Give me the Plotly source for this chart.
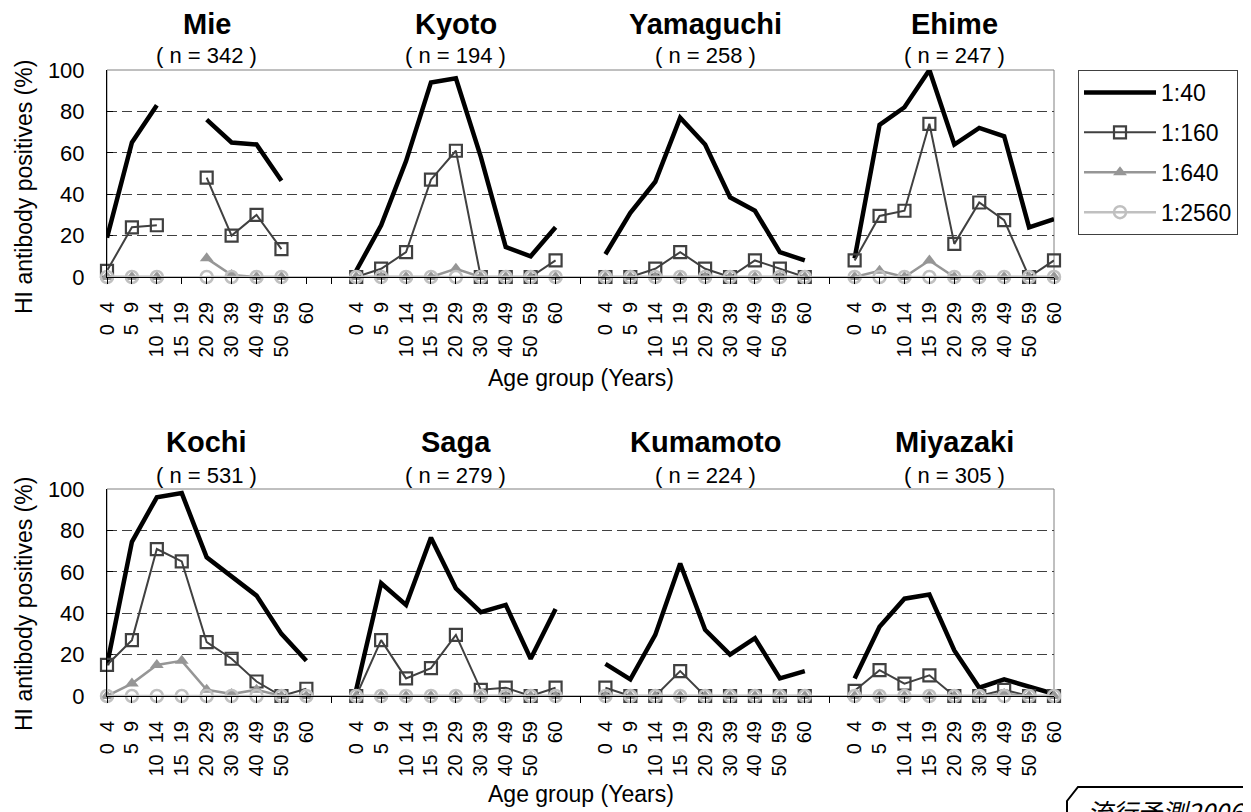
import plotly.graph_objects as go

# age groups (the dash is hidden in the original labels)
age_labels = ["0\u00a0\u00a04", "5\u00a0\u00a09", "10\u00a0\u00a014", "15\u00a0\u00a019", "20\u00a0\u00a029",
              "30\u00a0\u00a039", "40\u00a0\u00a049", "50\u00a0\u00a059", "60"]

titers = ["1:40", "1:160", "1:640", "1:2560"]

top_prefs = ["Mie", "Kyoto", "Yamaguchi", "Ehime"]
top_n = [342, 194, 258, 247]
bottom_prefs = ["Kochi", "Saga", "Kumamoto", "Miyazaki"]
bottom_n = [531, 279, 224, 305]

# % positives per age group, None = no data
mie_40 = [19, 65, 83, None, 76, 65, 64, 46.5, None]
mie_160 = [3, 24, 25, None, 48, 20, 30, 13.5, None]
mie_640 = [0, 0, 0, None, 9, 1, 0, 0, None]
mie_2560 = [0, 0, 0, None, 0, 0, 0, 0, None]

kyoto_40 = [3, 25, 56, 94, 96, 58, 14.5, 10, 24]
kyoto_160 = [0, 4, 12, 47, 61, 0, 0, 0, 8]
kyoto_640 = [0, 0, 0, 0, 4, 0, 0, 0, 0]
kyoto_2560 = [0, 0, 0, 0, 0, 0, 0, 0, 0]

yamaguchi_40 = [11, 31, 46, 77, 64, 38.5, 32, 12, 8]
yamaguchi_160 = [0, 0, 4, 12, 4, 0, 8, 4, 0]
yamaguchi_640 = [0, 0, 0, 0, 0, 0, 0, 0, 0]
yamaguchi_2560 = [0, 0, 0, 0, 0, 0, 0, 0, 0]

ehime_40 = [9, 73.5, 82, 100, 64, 72, 68, 24, 28]
ehime_160 = [8, 29.5, 32, 74, 16, 36, 27.5, 0, 8]
ehime_640 = [0, 3, 0, 8, 0, 0, 0, 0, 0]
ehime_2560 = [0, 0, 0, 0, 0, 0, 0, 0, 0]

kochi_40 = [15, 74.5, 96, 98, 67, 57.5, 48.5, 30, 17]
kochi_160 = [15, 27, 71, 65, 26, 18, 7, 0, 3.5]
kochi_640 = [0, 6, 15, 17, 3, 1, 3, 0, 0]
kochi_2560 = [0, 0, 0, 0, 0, 0, 0, 0, 0]

saga_40 = [3, 54.5, 44, 76.5, 52, 40.5, 44, 18, 42]
saga_160 = [0, 27, 8.5, 13.5, 29.5, 3, 4, 0, 4]
saga_640 = [0, 0, 0, 0, 0, 0, 0, 0, 0]
saga_2560 = [0, 0, 0, 0, 0, 0, 0, 0, 0]

kumamoto_40 = [15.5, 8, 29.5, 64, 32, 20, 28, 8.5, 12]
kumamoto_160 = [4, 0, 0, 12, 0, 0, 0, 0, 0]
kumamoto_640 = [0, 0, 0, 0, 0, 0, 0, 0, 0]
kumamoto_2560 = [0, 0, 0, 0, 0, 0, 0, 0, 0]

miyazaki_40 = [8.5, 33.5, 47, 49, 22, 4, 8, 4.5, 1]
miyazaki_160 = [2.5, 12.5, 6, 10, 0, 0, 3, 0, 0]
miyazaki_640 = [0, 0, 0, 0, 0, 0, 1, 0, 0]
miyazaki_2560 = [0, 0, 0, 0, 0, 0, 0, 0, 0]

top_rows = [
    [mie_40, mie_160, mie_640, mie_2560],
    [kyoto_40, kyoto_160, kyoto_640, kyoto_2560],
    [yamaguchi_40, yamaguchi_160, yamaguchi_640, yamaguchi_2560],
    [ehime_40, ehime_160, ehime_640, ehime_2560],
]
bottom_rows = [
    [kochi_40, kochi_160, kochi_640, kochi_2560],
    [saga_40, saga_160, saga_640, saga_2560],
    [kumamoto_40, kumamoto_160, kumamoto_640, kumamoto_2560],
    [miyazaki_40, miyazaki_160, miyazaki_640, miyazaki_2560],
]

# the page body has an 8px margin, so the figure is 8px smaller and all
# pixel positions below are given in window pixels and shifted by OFF
OFF = 8
W, H = 1251 - OFF, 812 - OFF
FONT = "Arial, Liberation Sans, sans-serif"

styles = [
    dict(mode="lines", line=dict(color="black", width=4.5)),
    dict(mode="lines+markers", line=dict(color="#404040", width=2),
         marker=dict(symbol="square-open", size=12, color="#404040", line=dict(width=2.2))),
    dict(mode="lines+markers", line=dict(color="#969696", width=2.5),
         marker=dict(symbol="triangle-up", size=12, color="#969696")),
    dict(mode="lines+markers", line=dict(color="#c0c0c0", width=2.5),
         marker=dict(symbol="circle-open", size=12, color="#c0c0c0", line=dict(width=2.5))),
]

n_age = len(age_labels)
step = n_age + 1  # one empty slot between prefectures
n_pos = step * 4 - 1
tickvals = list(range(n_pos))
ticktext = []
for i in range(n_pos):
    ticktext.append(age_labels[i % step] if i % step < n_age else "")

fig = go.Figure()

for r, rows in enumerate([top_rows, bottom_rows]):
    xa = "x" if r == 0 else "x2"
    ya = "y" if r == 0 else "y2"
    for t in range(4):
        for p in range(4):
            fig.add_trace(go.Scatter(
                x=[p * step + i for i in range(n_age)], y=rows[p][t],
                xaxis=xa, yaxis=ya, name=titers[t], legendgroup=titers[t],
                showlegend=(r == 0 and p == 0), cliponaxis=False,
                connectgaps=False, hoverinfo="skip", **styles[t]))


def px_x(v):
    return (v - OFF) / W


def px_y(v):
    return 1 - (v - OFF) / H


x_dom = [px_x(107), px_x(1054)]
axis_common = dict(range=[0, n_pos - 1], tickmode="array", tickvals=tickvals, ticktext=ticktext,
                   tickangle=-90, ticks="outside", ticklen=6, tickcolor="black",
                   showline=True, linecolor="black", linewidth=1, showgrid=False, zeroline=False,
                   automargin=False, ticklabelstandoff=10,
                   tickfont=dict(family=FONT, size=20, color="black"), domain=x_dom)
yaxis_common = dict(range=[0, 100], tickvals=[0, 20, 40, 60, 80, 100], ticks="inside", ticklen=6,
                    tickcolor="black", showline=True, linecolor="black", linewidth=1,
                    showgrid=True, gridcolor="#404040", gridwidth=1, griddash="10px,5px",
                    zeroline=False, ticklabelstandoff=17, automargin=False,
                    tickfont=dict(family=FONT, size=22, color="black"))

fig.update_layout(
    width=W, height=H, margin=dict(l=0, r=0, t=0, b=0),
    plot_bgcolor="white", paper_bgcolor="white",
    xaxis=dict(anchor="y", **axis_common),
    yaxis=dict(anchor="x", domain=[px_y(277), px_y(70)], **yaxis_common),
    xaxis2=dict(anchor="y2", **axis_common),
    yaxis2=dict(anchor="x2", domain=[px_y(696), px_y(489)], **yaxis_common),
    legend=dict(x=px_x(1078), y=px_y(70), xanchor="left", yanchor="top",
                bordercolor="#404040", borderwidth=1, bgcolor="white",
                font=dict(family=FONT, size=23, color="black"),
                tracegroupgap=7, itemwidth=72),
    showlegend=True,
)

# plot-area frame (top and right edges in gray)
for xr, yr in [("x domain", "y domain"), ("x2 domain", "y2 domain")]:
    fig.add_shape(type="rect", xref=xr, yref=yr, x0=0, x1=1, y0=0, y1=1,
                  line=dict(color="#808080", width=1), layer="below")

annotations = []
for r, (prefs, ns) in enumerate([(top_prefs, top_n), (bottom_prefs, bottom_n)]):
    xa = "x" if r == 0 else "x2"
    title_y = [24, 442][r]
    n_y = [56, 475][r]
    for p in range(4):
        cx = p * step + (n_age - 1) / 2
        annotations.append(dict(x=cx, xref=xa, y=px_y(title_y), yref="paper", text="<b>%s</b>" % prefs[p],
                                showarrow=False, font=dict(family=FONT, size=29, color="black"),
                                yanchor="middle"))
        annotations.append(dict(x=cx, xref=xa, y=px_y(n_y), yref="paper", text="( n = %d )" % ns[p],
                                showarrow=False, font=dict(family=FONT, size=22, color="black"),
                                yanchor="middle"))
    annotations.append(dict(x=(n_pos - 1) / 2, xref=xa, y=px_y([378, 794][r]), yref="paper",
                            text="Age group (Years)", showarrow=False, yanchor="middle",
                            font=dict(family=FONT, size=23, color="black")))
    annotations.append(dict(x=px_x(24), xref="paper", y=px_y([187, 604][r]), yref="paper",
                            text="HI antibody positives (%)", textangle=-90, showarrow=False,
                            xanchor="center", yanchor="middle",
                            font=dict(family=FONT, size=23, color="black")))

# watermark tag in the lower right corner
annotations.append(dict(x=px_x(1085), xref="paper", y=px_y(791), yref="paper", text="<i>流行予測2006</i>",
                        showarrow=False, xanchor="left", yanchor="top",
                        font=dict(family="Noto Sans CJK JP", size=25, color="black")))
fig.add_shape(type="path", xref="paper", yref="paper",
              path="M %f,%f L %f,%f L %f,%f L %f,%f" % (px_x(1067), px_y(815), px_x(1067), px_y(801),
                                                         px_x(1078), px_y(787), px_x(1251), px_y(787)),
              line=dict(color="black", width=2))
fig.update_layout(annotations=annotations)

fig.write_html("out.html")
